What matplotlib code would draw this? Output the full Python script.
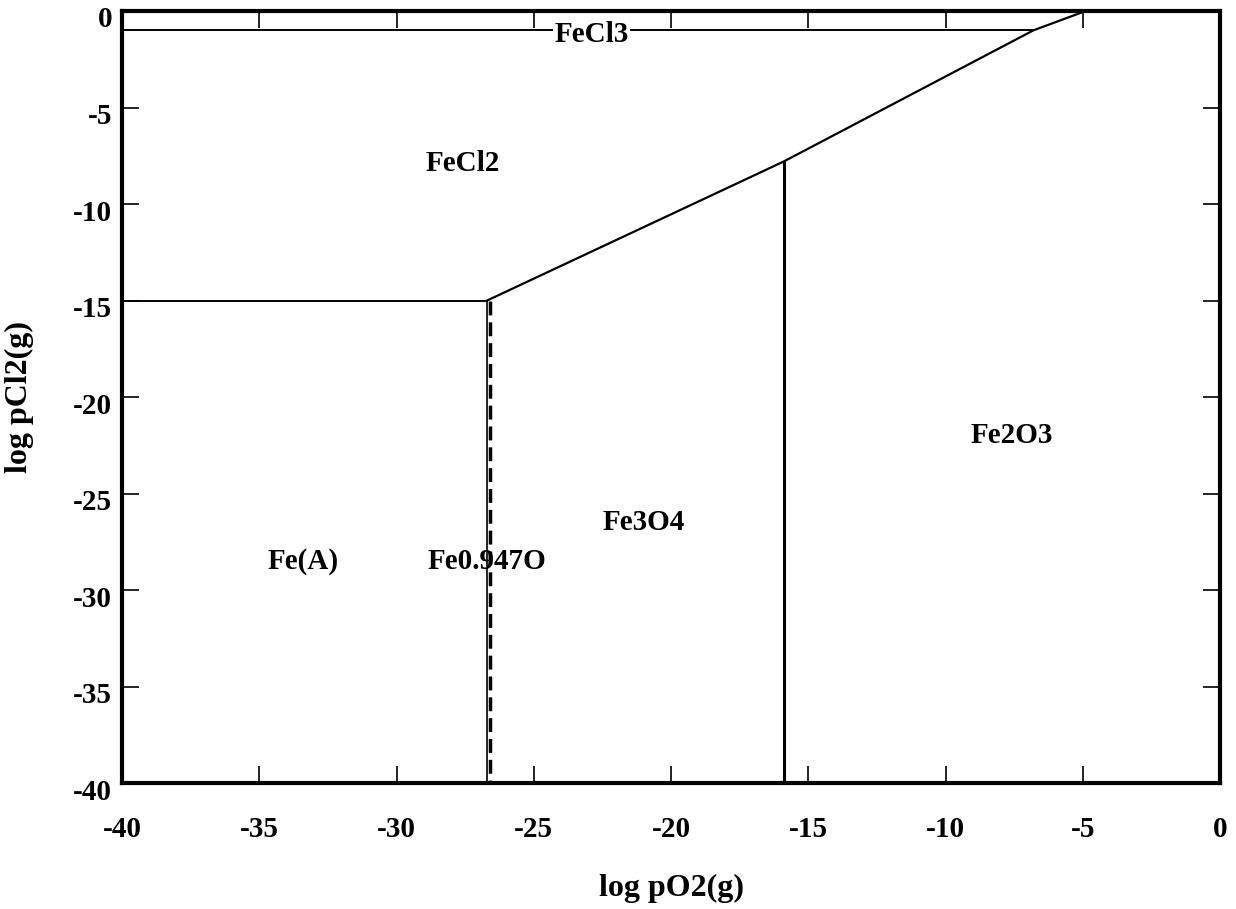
import matplotlib
matplotlib.use("Agg")
import matplotlib.pyplot as plt
from matplotlib.transforms import ScaledTranslation

# Phase boundaries (log pO2, log pCl2)
fecl3_x = [-40.0, -6.8]
fecl3_y = [-1.0, -1.0]
upper_x = [-26.7, -15.9, -6.8, -4.9]
upper_y = [-15.0, -7.8, -1.0, 0.0]
fe_fecl2_x = [-40.0, -26.7]
fe_fecl2_y = [-15.0, -15.0]
v1_x = [-26.70, -26.70]
v1_y = [-15.0, -40.0]
v2_x = [-26.58, -26.58]
v2_y = [-15.0, -40.0]
v3_x = [-15.9, -15.9]
v3_y = [-7.8, -40.0]

labels = ["FeCl3", "FeCl2", "Fe2O3", "Fe3O4", "Fe(A)", "Fe0.947O"]
label_x = [-22.9, -27.6, -7.6, -21.0, -33.4, -26.7]
label_y = [-1.2, -7.9, -22.0, -26.5, -28.5, -28.5]

xticks = [-40, -35, -30, -25, -20, -15, -10, -5, 0]
yticks = [0, -5, -10, -15, -20, -25, -30, -35, -40]

plt.rcParams['font.family'] = ['Liberation Serif', 'DejaVu Serif']
plt.rcParams['font.weight'] = 'bold'

fig = plt.figure(figsize=(12.36, 9.09), dpi=100)
ax = fig.add_axes([0.0987, 0.1386, 0.8885, 0.8493])

lc = 'black'
ax.plot(fecl3_x, fecl3_y, color=lc, lw=1.4)
ax.plot(upper_x, upper_y, color=lc, lw=1.6)
ax.plot(fe_fecl2_x, fe_fecl2_y, color=lc, lw=1.4)
ax.plot(v1_x, v1_y, color=lc, lw=1.2)
ax.plot(v2_x, v2_y, color=lc, lw=2.5, dashes=(4, 2))
ax.plot(v3_x, v3_y, color=lc, lw=2.2)

for t, x, y in zip(labels, label_x, label_y):
    kw = {}
    if t == "FeCl3":
        kw['bbox'] = dict(facecolor='white', edgecolor='none', pad=1)
    ax.text(x, y, t, ha='center', va='center', fontsize=21, fontweight='bold', **kw)

ax.set_xlim(-40, 0)
ax.set_ylim(-40, 0)
ax.set_xticks(xticks)
ax.set_yticks(yticks)
ax.set_xticklabels([str(v) for v in xticks], fontsize=21, fontweight='bold')
ax.set_yticklabels([str(v) for v in yticks], fontsize=21, fontweight='bold')
ax.tick_params(direction='in', length=12, width=1.2, top=True, right=True)
ax.tick_params(axis='x', pad=24)
ax.tick_params(axis='y', pad=7)
for lab in ax.get_yticklabels():
    lab.set_transform(lab.get_transform() + ScaledTranslation(0, -6/100, fig.dpi_scale_trans))
for s in ax.spines.values():
    s.set_linewidth(3)

ax.set_xlabel("log pO2(g)", fontsize=23, fontweight='bold', labelpad=22)
ax.set_ylabel("log pCl2(g)", fontsize=23, fontweight='bold', labelpad=28)

fig.savefig("out.png", dpi=100)
